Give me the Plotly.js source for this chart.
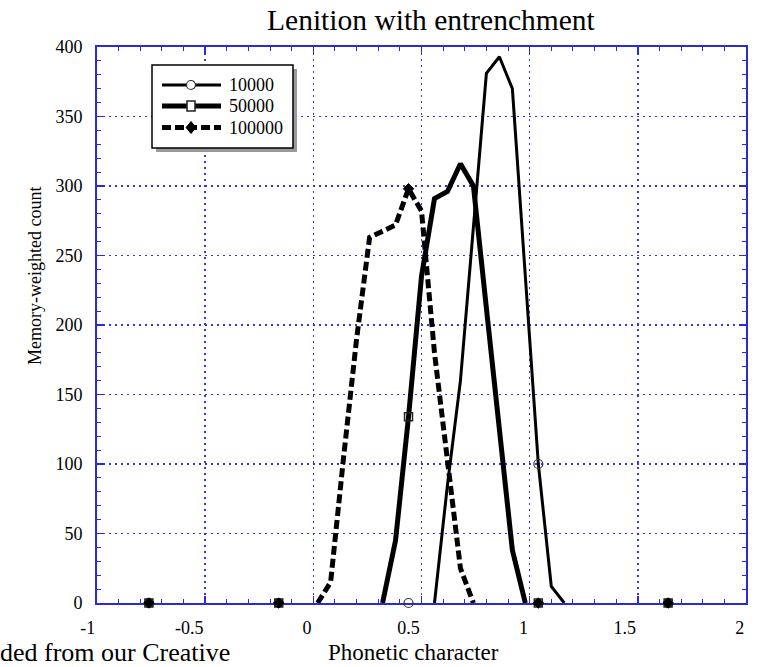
<!DOCTYPE html>
<html>
<head>
<meta charset="utf-8">
<script src="https://cdn.plot.ly/plotly-3.0.1.min.js"></script>
<style>html,body{margin:0;padding:0;background:#fff;}#chart{width:760px;height:667px;}</style>
</head>
<body>
<div id="chart"></div>
<script>
// Phonetic character values (shared x grid)
var phonetic = [-0.76, -0.16, 0.02, 0.08, 0.14, 0.20, 0.26, 0.32, 0.38, 0.44, 0.50, 0.56, 0.62, 0.68, 0.74, 0.80, 0.86, 0.92, 0.98, 1.04, 1.10, 1.16, 1.64];
// Memory-weighted counts per iteration count
var count10000  = [0, 0, 0, 0, 0, 0, 0, 0, 0, 0, 0, 0, 85, 160, 270, 381, 393, 370, 235, 100, 12, 0, 0];
var count50000  = [0, 0, 0, 0, 0, 0, 0, 0, 45, 134, 235, 291, 296, 316, 300, 212, 127, 38, 0, 0, 0, 0, 0];
var count100000 = [0, 0, 0, 15, 105, 190, 263, 268, 272, 298, 282, 180, 100, 25, 0, 0, 0, 0, 0, 0, 0, 0, 0];
// Points that carry a marker symbol
var markerAt = [-0.76, -0.16, 0.44, 1.04, 1.64];
var seriesNames = ['10000', '50000', '100000'];
var xTickVals = [-1, -0.5, 0, 0.5, 1, 1.5, 2];
var xTickText = ['-1', '-0.5', '0', '0.5', '1', '1.5', '2'];
var yTickVals = [0, 50, 100, 150, 200, 250, 300, 350, 400];

var seriesData = [count10000, count50000, count100000];
var styles = [
  {width: 3, dash: 'solid', symbol: 'circle-open', msize: 9, mline: 1.2, mcolor: '#333'},
  {width: 5, dash: 'solid', symbol: 'square-open', msize: 8, mline: 1.5, mcolor: '#222'},
  {width: 5, dash: '9px,4px', symbol: 'diamond', msize: 8, mline: 1, mcolor: '#000'}
];

function pick(vals) {
  return markerAt.map(function (xv) { return vals[phonetic.indexOf(xv)]; });
}
// keep only the visible hump (one zero anchor on each side); flat zero runs lie under the axis
function hump(vals) {
  var first = -1, last = -1;
  vals.forEach(function (v, i) { if (v !== 0) { if (first < 0) first = i; last = i; } });
  return vals.map(function (v, i) { return (i >= first - 1 && i <= last + 1) ? v : null; });
}

var traces = [];
seriesData.forEach(function (vals, i) {
  var s = styles[i];
  traces.push({
    x: phonetic, y: hump(vals), type: 'scatter', mode: 'lines', connectgaps: false,
    line: {color: '#000', width: s.width, dash: s.dash},
    showlegend: false, hoverinfo: 'skip'
  });
});
seriesData.forEach(function (vals, i) {
  var s = styles[i];
  traces.push({
    x: markerAt, y: pick(vals), type: 'scatter', mode: 'markers',
    marker: {symbol: s.symbol, size: s.msize, color: s.mcolor, line: {color: s.mcolor, width: s.mline}},
    showlegend: false, hoverinfo: 'skip', cliponaxis: false
  });
});

var blue = '#2a2ad8';
var serif = 'Liberation Serif, Times New Roman, serif';

// pixel -> paper helpers (plot area: x 97..746, y 47..603)
var L = 97, R = 746, T = 47, B = 603;
function px(p) { return (p - L) / (R - L); }
function py(p) { return (B - p) / (B - T); }

// hand-drawn legend box
var lg = {x0: 152, x1: 293, y0: 65, y1: 148, lineX0: 162, lineX1: 221, mx: 191, tx: 227, rows: [85, 106, 127.5]};
var shapes = [
  {type: 'rect', xref: 'paper', yref: 'paper', layer: 'above', x0: px(lg.x0 + 4), x1: px(lg.x1 + 4), y0: py(lg.y0 + 4), y1: py(lg.y1 + 4), fillcolor: '#9a9a9a', line: {width: 0}},
  {type: 'rect', xref: 'paper', yref: 'paper', layer: 'above', x0: px(lg.x0), x1: px(lg.x1), y0: py(lg.y0), y1: py(lg.y1), fillcolor: '#ffffff', line: {color: '#000', width: 1.5}}
];
var annotations = [];
seriesNames.forEach(function (nm, i) {
  var s = styles[i], r = lg.rows[i];
  shapes.push({type: 'line', xref: 'paper', yref: 'paper', layer: 'above', x0: px(lg.lineX0), x1: px(lg.lineX1), y0: py(r), y1: py(r), line: {color: '#000', width: s.width, dash: s.dash}});
  annotations.push({text: nm, xref: 'paper', yref: 'paper', x: px(lg.tx), y: py(r), xanchor: 'left', yanchor: 'middle', showarrow: false, font: {family: serif, size: 18, color: '#000'}});
});
shapes.push({type: 'circle', xref: 'paper', yref: 'paper', layer: 'above', x0: px(lg.mx - 4.5), x1: px(lg.mx + 4.5), y0: py(lg.rows[0] - 4.5), y1: py(lg.rows[0] + 4.5), fillcolor: '#fff', line: {color: '#333', width: 1.2}});
shapes.push({type: 'rect', xref: 'paper', yref: 'paper', layer: 'above', x0: px(lg.mx - 4), x1: px(lg.mx + 4), y0: py(lg.rows[1] - 5), y1: py(lg.rows[1] + 5), fillcolor: '#fff', line: {color: '#222', width: 1.5}});
shapes.push({type: 'path', xref: 'paper', yref: 'paper', layer: 'above',
  path: 'M' + px(lg.mx - 5) + ',' + py(lg.rows[2]) + ' L' + px(lg.mx) + ',' + py(lg.rows[2] - 6) + ' L' + px(lg.mx + 5) + ',' + py(lg.rows[2]) + ' L' + px(lg.mx) + ',' + py(lg.rows[2] + 6) + ' Z',
  fillcolor: '#000', line: {color: '#000', width: 1}});

// axis titles and footer text
annotations.push({text: 'Phonetic character', xref: 'paper', yref: 'paper', x: px(413), y: py(653), xanchor: 'center', yanchor: 'middle', showarrow: false, font: {family: serif, size: 23, color: '#000'}});
annotations.push({text: 'Memory-weighted count', xref: 'paper', yref: 'paper', x: px(35), y: py(276), xanchor: 'center', yanchor: 'middle', textangle: -90, showarrow: false, font: {family: serif, size: 18, color: '#000'}});
annotations.push({text: 'ded from our Creative', xref: 'paper', yref: 'paper', x: px(-2), y: py(636), xanchor: 'left', yanchor: 'top', showarrow: false, font: {family: serif, size: 26, color: '#000'}});

var layout = {
  width: 760, height: 667,
  margin: {l: L, r: 760 - R, t: T, b: 667 - B},
  paper_bgcolor: '#ffffff', plot_bgcolor: '#ffffff',
  font: {family: serif, color: '#000', size: 18},
  showlegend: false,
  title: {text: 'Lenition with entrenchment', font: {family: serif, size: 29.5, color: '#000'}, x: 0.567, xanchor: 'center', y: 0.97, yanchor: 'middle'},
  xaxis: {
    range: [-1, 2], tickmode: 'array', tickvals: xTickVals, ticktext: xTickText,
    ticks: 'inside', ticklen: 7, tickwidth: 1.5, tickcolor: blue,
    ticklabelposition: 'outside left', ticklabelstandoff: 7,
    showline: true, linecolor: blue, linewidth: 2, mirror: 'ticks',
    showgrid: true, gridcolor: '#3434e6', gridwidth: 1.5, griddash: '2px,4px',
    zeroline: false, layer: 'below traces',
    tickfont: {family: serif, size: 18, color: '#000'},
    minor: {tickmode: 'linear', tick0: -1, dtick: 0.1, ticks: 'inside', ticklen: 4, tickcolor: blue, tickwidth: 1, showgrid: false}
  },
  yaxis: {
    range: [0, 400], tickmode: 'array', tickvals: yTickVals,
    ticks: 'inside', ticklen: 7, tickwidth: 1.5, tickcolor: blue,
    ticklabelstandoff: 9,
    showline: true, linecolor: blue, linewidth: 2, mirror: 'ticks',
    showgrid: true, gridcolor: '#3434e6', gridwidth: 1.5, griddash: '2px,4px',
    zeroline: false, layer: 'below traces',
    tickfont: {family: serif, size: 18, color: '#000'},
    minor: {tickmode: 'linear', tick0: 0, dtick: 10, ticks: 'inside', ticklen: 4, tickcolor: blue, tickwidth: 1, showgrid: false}
  },
  shapes: shapes,
  annotations: annotations
};

Plotly.newPlot('chart', traces, layout, {displayModeBar: false, staticPlot: true});
</script>
</body>
</html>
